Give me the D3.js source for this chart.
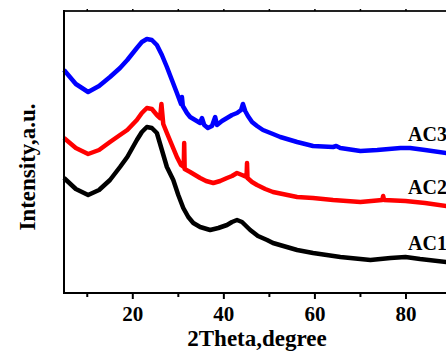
<!DOCTYPE html>
<html>
<head>
<meta charset="utf-8">
<script src="https://cdn.jsdelivr.net/npm/d3@7"></script>
<style>
  html, body { margin: 0; padding: 0; background: #fff; }
  svg text { font-family: "Liberation Serif", "Times New Roman", serif; font-weight: bold; }
</style>
</head>
<body>
<svg id="chart" width="446" height="351"></svg>
<script>
// 2theta (degree) and intensity (a.u.)
const ac1Theta = [5.0, 7.6, 10.3, 12.7, 15.1, 17.3, 18.9, 21.0, 22.1, 23.2, 24.3, 25.4, 26.5, 27.6, 29.0, 30.1, 31.2, 32.3, 33.4, 34.9, 37.1, 38.9, 40.8, 41.9, 43.0, 44.1, 45.9, 47.6, 49.6, 50.9, 56.2, 59.7, 65.7, 72.3, 76.7, 80.0, 83.2, 89.0, 89.8];
const ac1Value = [1150, 1040, 980, 1030, 1130, 1260, 1360, 1530, 1610, 1660, 1650, 1600, 1430, 1260, 1130, 980, 850, 760, 700, 660, 630, 650, 680, 710, 730, 710, 630, 570, 530, 500, 430, 400, 360, 330, 350, 360, 340, 310, 310];

const ac2Theta = [5.0, 7.6, 10.3, 12.7, 15.1, 17.3, 18.9, 21.0, 22.1, 23.2, 24.3, 25.4, 26.1, 26.4, 26.8, 27.6, 28.7, 29.8, 30.7, 31.3, 31.4, 31.5, 32.7, 33.8, 34.9, 36.2, 37.8, 39.3, 40.8, 41.9, 43.0, 44.1, 45.1, 45.2, 45.3, 46.3, 47.4, 49.2, 50.9, 56.2, 59.7, 64.1, 70.1, 74.9, 75.1, 75.3, 80.0, 84.3, 89.0, 89.8];
const ac2Value = [1550, 1450, 1390, 1430, 1510, 1580, 1630, 1730, 1800, 1850, 1840, 1780, 1750, 1890, 1690, 1600, 1480, 1360, 1280, 1260, 1500, 1240, 1210, 1180, 1150, 1120, 1100, 1120, 1150, 1170, 1200, 1180, 1160, 1300, 1150, 1110, 1080, 1040, 1010, 960, 950, 930, 910, 930, 970, 930, 920, 900, 870, 870];

const ac3Theta = [5.0, 7.6, 10.3, 12.7, 15.1, 17.3, 18.9, 21.0, 22.1, 23.2, 24.3, 25.4, 26.5, 27.6, 28.7, 29.8, 30.7, 30.9, 31.1, 32.0, 32.7, 33.8, 34.9, 35.3, 35.8, 36.6, 37.5, 38.2, 38.6, 39.7, 40.8, 41.9, 43.0, 43.9, 44.3, 44.8, 45.4, 46.3, 47.4, 48.7, 50.9, 52.5, 56.2, 59.7, 64.1, 64.8, 65.7, 70.1, 73.8, 78.9, 81.0, 84.3, 89.0, 89.8];
const ac3Value = [2230, 2090, 2010, 2070, 2160, 2250, 2330, 2450, 2510, 2540, 2530, 2480, 2380, 2260, 2130, 2000, 1890, 1960, 1870, 1800, 1760, 1730, 1700, 1750, 1680, 1650, 1670, 1760, 1680, 1720, 1750, 1780, 1800, 1830, 1890, 1820, 1770, 1710, 1670, 1630, 1590, 1560, 1510, 1470, 1460, 1470, 1450, 1420, 1430, 1450, 1450, 1430, 1400, 1400];

const seriesNames = ["AC1", "AC2", "AC3"];
const seriesColors = ["#000000", "#ff0000", "#0000ff"];
const majorTicks = [20, 40, 60, 80];
const minorTicks = [10, 30, 50, 70, 90];

const svg = d3.select("#chart");
const plotLeft = 64, plotTop = 11, plotRight = 451, plotBottom = 293;

const x = d3.scaleLinear().domain([5, 90]).range([plotLeft, plotRight]);
const y = d3.scaleLinear().domain([0, 2820]).range([plotBottom, plotTop]);

const series = [
  {name: seriesNames[0], color: seriesColors[0], pts: d3.zip(ac1Theta, ac1Value)},
  {name: seriesNames[1], color: seriesColors[1], pts: d3.zip(ac2Theta, ac2Value)},
  {name: seriesNames[2], color: seriesColors[2], pts: d3.zip(ac3Theta, ac3Value)}
];

const line = d3.line()
  .x(d => x(d[0]))
  .y(d => y(d[1]));

svg.append("g")
  .selectAll("path")
  .data(series)
  .enter()
  .append("path")
  .attr("d", d => line(d.pts))
  .attr("fill", "none")
  .attr("stroke", d => d.color)
  .attr("stroke-width", 4.5)
  .attr("stroke-linejoin", "round");

// series labels near the right end
const labelTheta = 82;
svg.selectAll(".lab")
  .data(series)
  .enter()
  .append("text")
  .attr("x", 408)
  .attr("y", d => y(d3.max(d.pts.filter(p => p[0] >= labelTheta), p => p[1])) - 9)
  .attr("font-size", 20)
  .text(d => d.name);

// bottom axis
const xAxis = svg.append("g")
  .attr("transform", "translate(0," + plotBottom + ")")
  .call(d3.axisBottom(x).tickValues(majorTicks).tickSize(6).tickPadding(7).tickFormat(d3.format("d")));
xAxis.select(".domain").attr("stroke-width", 2).attr("d", "M" + plotLeft + ",0H" + plotRight);
xAxis.selectAll(".tick line").attr("stroke-width", 2);
xAxis.selectAll(".tick text")
  .attr("font-size", 21)
  .attr("font-family", "Liberation Serif, serif")
  .attr("font-weight", "bold")
  .attr("fill", "#000");

svg.append("g")
  .attr("transform", "translate(0," + plotBottom + ")")
  .call(d3.axisBottom(x).tickValues(minorTicks).tickSize(4).tickFormat(""))
  .call(g => g.select(".domain").remove())
  .selectAll(".tick line").attr("stroke-width", 2);

// top axis
const xTop = svg.append("g")
  .attr("transform", "translate(0," + plotTop + ")")
  .call(d3.axisTop(x).tickValues(majorTicks.concat(minorTicks)).tickSize(2).tickFormat(""));
xTop.select(".domain").attr("stroke-width", 2).attr("stroke", "#222").attr("d", "M" + (plotLeft - 1) + ",0H" + plotRight);
xTop.selectAll(".tick line").attr("stroke-width", 1.5);

// left axis, no ticks
svg.append("line")
  .attr("x1", plotLeft).attr("x2", plotLeft)
  .attr("y1", plotTop - 1).attr("y2", plotBottom + 1)
  .attr("stroke", "#000")
  .attr("stroke-width", 2);

// axis titles
svg.append("text")
  .attr("x", 257)
  .attr("y", 346)
  .attr("text-anchor", "middle")
  .attr("font-size", 23)
  .text("2Theta,degree");

svg.append("text")
  .attr("transform", "translate(35,167)rotate(-90)")
  .attr("text-anchor", "middle")
  .attr("font-size", 23)
  .text("Intensity,a.u.");
</script>
</body>
</html>
